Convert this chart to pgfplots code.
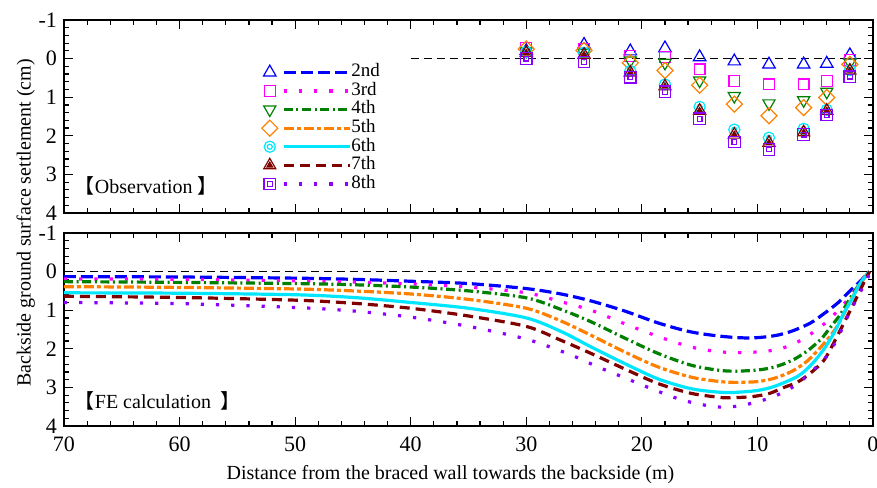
\documentclass[border=0pt]{standalone}
\usepackage{fontspec}
\setmainfont{Liberation Serif}
\newfontfamily\cjk{Noto Sans CJK JP}
\usepackage{pgfplots}
\pgfplotsset{compat=1.18}

\definecolor{c2}{RGB}{0,0,255}
\definecolor{c3}{RGB}{255,0,255}
\definecolor{c4}{RGB}{0,128,0}
\definecolor{c5}{RGB}{255,128,0}
\definecolor{c6}{RGB}{0,230,255}
\definecolor{c7}{RGB}{128,0,0}
\definecolor{c8}{RGB}{140,0,255}

% extra marks
\pgfdeclareplotmark{dtriangle}{%
  \pgfpathmoveto{\pgfpoint{0pt}{-\pgfplotmarksize}}%
  \pgfpathlineto{\pgfpointpolar{30}{\pgfplotmarksize}}%
  \pgfpathlineto{\pgfpointpolar{150}{\pgfplotmarksize}}%
  \pgfpathclose\pgfusepathqstroke}
\pgfdeclareplotmark{dmd}{%
  \pgfpathmoveto{\pgfpoint{0pt}{\pgfplotmarksize}}%
  \pgfpathlineto{\pgfpoint{\pgfplotmarksize}{0pt}}%
  \pgfpathlineto{\pgfpoint{0pt}{-\pgfplotmarksize}}%
  \pgfpathlineto{\pgfpoint{-\pgfplotmarksize}{0pt}}%
  \pgfpathclose\pgfusepathqstroke}
\pgfdeclareplotmark{dcirc}{%
  \pgfpathcircle{\pgfpointorigin}{\pgfplotmarksize}%
  \pgfpathcircle{\pgfpointorigin}{0.45\pgfplotmarksize}%
  \pgfusepathqstroke}
\pgfdeclareplotmark{dtri}{%
  \pgfpathmoveto{\pgfpoint{0pt}{\pgfplotmarksize}}%
  \pgfpathlineto{\pgfpointpolar{-30}{\pgfplotmarksize}}%
  \pgfpathlineto{\pgfpointpolar{210}{\pgfplotmarksize}}%
  \pgfpathclose\pgfusepathqstroke
  \pgfpathmoveto{\pgfpoint{0pt}{0.45\pgfplotmarksize}}%
  \pgfpathlineto{\pgfpointpolar{-30}{0.45\pgfplotmarksize}}%
  \pgfpathlineto{\pgfpointpolar{210}{0.45\pgfplotmarksize}}%
  \pgfpathclose\pgfusepathqfillstroke}
\pgfdeclareplotmark{dsq}{%
  \pgfpathrectangle{\pgfpoint{-\pgfplotmarksize}{-\pgfplotmarksize}}{\pgfpoint{2\pgfplotmarksize}{2\pgfplotmarksize}}%
  \pgfpathrectangle{\pgfpoint{-0.4\pgfplotmarksize}{-0.4\pgfplotmarksize}}{\pgfpoint{0.8\pgfplotmarksize}{0.8\pgfplotmarksize}}%
  \pgfusepathqstroke}

\pgfplotsset{
  base/.style={scale only axis, width=404.5pt, height=96.5pt,
    xmin=0, xmax=70, x dir=reverse, ymin=-1, ymax=4, y dir=reverse,
    xtick={0,10,...,70}, ytick={-1,0,...,4},
    minor x tick num=4, minor y tick num=4,
    tick align=inside, tick pos=both,
    axis line style={line width=0.8pt},
    every tick/.style={black, line width=0.6pt},
    major tick length=4.5pt, minor tick length=2.5pt,
    tick label style={font=\fontsize{11}{12}\selectfont},
    /pgf/number format/assume math mode=true},
  mk/.style={mark options={solid, line width=0.6pt}},
  s2/.style={color=c2, mark=triangle, mark size=3.6pt, mk, line width=1.6pt, dash pattern=on 6pt off 2.5pt},
  s3/.style={color=c3, mark=square, mark size=2.7pt, mk, line width=1.6pt, dash pattern=on 1.6pt off 6pt},
  s4/.style={color=c4, mark=dtriangle, mark size=3.5pt, mk, line width=1.6pt, dash pattern=on 4.5pt off 1.8pt on 1pt off 1.8pt},
  s5/.style={color=c5, mark=dmd, mark size=4pt, mk, line width=1.6pt, dash pattern=on 5pt off 1.5pt on 2pt off 1.5pt},
  s6/.style={color=c6, mark=dcirc, mark size=2.8pt, mk, line width=1.6pt, solid},
  s7/.style={color=c7, mark=dtri, mark size=3.5pt, mk, line width=1.6pt, dash pattern=on 5pt off 3pt},
  s8/.style={color=c8, mark=dsq, mark size=2.9pt, mk, line width=1.6pt, dash pattern=on 1.6pt off 6pt},
  zero/.style={black, line width=0.6pt, dash pattern=on 4pt off 2.5pt, forget plot},
}

\begin{document}
\begin{tikzpicture}
\begin{axis}[base, name=top, xticklabels={},
  legend style={at={(rel axis cs:0.244,0.779)}, anchor=north west, draw=none, fill=none,
    font=\fontsize{9.5}{10}\selectfont, row sep=0pt, inner sep=0pt,
    nodes={inner sep=0pt, text height=6.8pt, text depth=2.5pt}},
  legend cell align=left,
  legend image code/.code={
    \draw[#1, only marks] plot coordinates {(0pt,0pt)};
    \draw[#1, mark=none] (7pt,0pt) -- (40pt,0pt);
  }]
\addplot[zero] coordinates {(40,0) (0,0)};
\addplot[s2, only marks, forget plot] coordinates {(30,-0.2) (25,-0.36) (21,-0.19) (18,-0.27) (15,-0.04) (12,0.07) (9,0.15) (6,0.15) (4,0.13) (2,-0.09)};
\addplot[s3, only marks, forget plot] coordinates {(30,-0.27) (25,-0.25) (21,-0.06) (18,-0.04) (15,0.28) (12,0.58) (9,0.67) (6,0.67) (4,0.58) (2,0.04)};
\addplot[s4, only marks, forget plot] coordinates {(30,-0.2) (25,-0.15) (21,0.05) (18,0.11) (15,0.57) (12,0.97) (9,1.16) (6,1.08) (4,0.86) (2,0.1)};
\addplot[s5, only marks, forget plot] coordinates {(30,-0.25) (25,-0.21) (21,0.11) (18,0.31) (15,0.69) (12,1.18) (9,1.48) (6,1.27) (4,1.01) (2,0.15)};
\addplot[s6, only marks, forget plot] coordinates {(30,-0.17) (25,-0.15) (21,0.32) (18,0.67) (15,1.25) (12,1.84) (9,2.05) (6,1.82) (4,1.33) (2,0.3)};
\addplot[s7, only marks, forget plot] coordinates {(30,-0.15) (25,-0.1) (21,0.36) (18,0.72) (15,1.35) (12,1.97) (9,2.18) (6,1.91) (4,1.35) (2,0.31)};
\addplot[s8, only marks, forget plot] coordinates {(30,0.0) (25,0.09) (21,0.48) (18,0.86) (15,1.56) (12,2.16) (9,2.35) (6,1.97) (4,1.46) (2,0.47)};
\addlegendimage{s2}\addlegendentry{2nd}
\addlegendimage{s3}\addlegendentry{3rd}
\addlegendimage{s4}\addlegendentry{4th}
\addlegendimage{s5}\addlegendentry{5th}
\addlegendimage{s6}\addlegendentry{6th}
\addlegendimage{s7}\addlegendentry{7th}
\addlegendimage{s8}\addlegendentry{8th}
\node[anchor=west, font=\fontsize{10}{12}\selectfont, inner sep=0pt] at (rel axis cs:0.013,0.14) {{\cjk 【}Observation\ {\cjk 】}};
\end{axis}

\begin{axis}[base, name=bot, at={(top.south west)}, anchor=north west, yshift=-10pt,
  xlabel={Distance from the braced wall towards the backside (m)},
  ylabel={Backside ground surface settlement (cm)},
  label style={font=\fontsize{10}{12}\selectfont},
  xticklabel style={yshift=-2pt},
  xlabel style={xshift=-9pt},
  ylabel style={at={(ticklabel cs:1.052,-5pt)}, anchor=south}]
\addplot[zero] coordinates {(70,0) (0,0)};
\addplot[s2, mark=none, smooth] coordinates {(70,0.13) (60,0.14) (50,0.17) (45,0.2) (40,0.25) (35,0.31) (30,0.44) (27,0.58) (24.4,0.76) (21.5,1.02) (18.6,1.33) (15.8,1.56) (13,1.68) (10.6,1.72) (8.5,1.66) (7,1.54) (5.4,1.33) (4.2,1.08) (3,0.8) (2,0.5) (1,0.22) (0.3,0)};
\addplot[s3, mark=none, smooth] coordinates {(70,0.19) (60,0.2) (50,0.24) (45,0.27) (40,0.32) (35,0.4) (30,0.55) (27,0.78) (24.4,1.0) (21.5,1.35) (18.6,1.68) (15.8,1.95) (13.5,2.07) (11.5,2.1) (9.5,2.07) (8,2.0) (6.5,1.82) (5.4,1.62) (4,1.3) (3,1.0) (2,0.66) (1.2,0.3) (0.3,0)};
\addplot[s4, mark=none, smooth] coordinates {(70,0.26) (60,0.28) (50,0.31) (45,0.34) (40,0.4) (35,0.5) (30,0.68) (27,0.98) (24.4,1.3) (21.5,1.72) (18.6,2.12) (15.8,2.42) (13.5,2.55) (12,2.58) (10,2.55) (8.5,2.47) (7,2.3) (5.7,2.06) (4.5,1.75) (3.7,1.45) (2.8,1.1) (2,0.7) (1,0.25) (0.3,0)};
\addplot[s5, mark=none, smooth] coordinates {(70,0.39) (60,0.41) (50,0.45) (45,0.5) (40,0.58) (35,0.72) (30,0.95) (27,1.28) (24.4,1.65) (21.5,2.08) (18.6,2.47) (15.8,2.73) (13.5,2.84) (12,2.87) (10,2.85) (8.5,2.76) (7,2.58) (5.7,2.32) (4.5,1.95) (3.4,1.55) (2.6,1.15) (2,0.78) (1,0.28) (0.3,0)};
\addplot[s6, mark=none, smooth] coordinates {(70,0.55) (60,0.56) (50,0.6) (45,0.67) (40,0.8) (35,0.95) (30,1.2) (27,1.55) (24.4,1.95) (21.5,2.38) (18.6,2.78) (15.8,3.03) (13.5,3.12) (12,3.13) (10,3.08) (8.5,2.97) (6.5,2.71) (5.3,2.4) (4.25,2.01) (3.3,1.55) (2.6,1.12) (1.8,0.7) (1.15,0.32) (0.3,0)};
\addplot[s7, mark=none, smooth] coordinates {(70,0.64) (60,0.67) (50,0.74) (45,0.82) (40,0.95) (35,1.15) (30,1.42) (27,1.78) (24.4,2.12) (21.5,2.52) (18.6,2.9) (15.8,3.15) (13.5,3.25) (12.5,3.27) (10.5,3.24) (9,3.16) (7.7,3.0) (6.5,2.86) (5.3,2.6) (4.25,2.3) (3.4,1.85) (2.6,1.38) (1.7,0.85) (0.85,0.32) (0.3,0)};
\addplot[s8, mark=none, smooth] coordinates {(70,0.8) (60,0.83) (50,0.93) (45,1.02) (40,1.18) (35,1.42) (30,1.75) (26.3,2.14) (23.8,2.47) (21.5,2.75) (19.2,3.03) (16.6,3.32) (14,3.49) (12.6,3.51) (11.2,3.46) (9.5,3.33) (8.3,3.2) (7,3.0) (6,2.78) (5,2.5) (4,2.19) (3.1,1.75) (2.3,1.23) (1.4,0.7) (0.5,0.19) (0.3,0.05)};
\node[anchor=west, font=\fontsize{10}{12}\selectfont, inner sep=0pt] at (rel axis cs:0.013,0.13) {{\cjk 【}FE calculation\ \ {\cjk 】}};
\end{axis}

\pgfresetboundingbox
\useasboundingbox ([xshift=-32pt,yshift=10pt]top.north west) rectangle ([xshift=2pt,yshift=-31pt]bot.south east);
\end{tikzpicture}
\end{document}
